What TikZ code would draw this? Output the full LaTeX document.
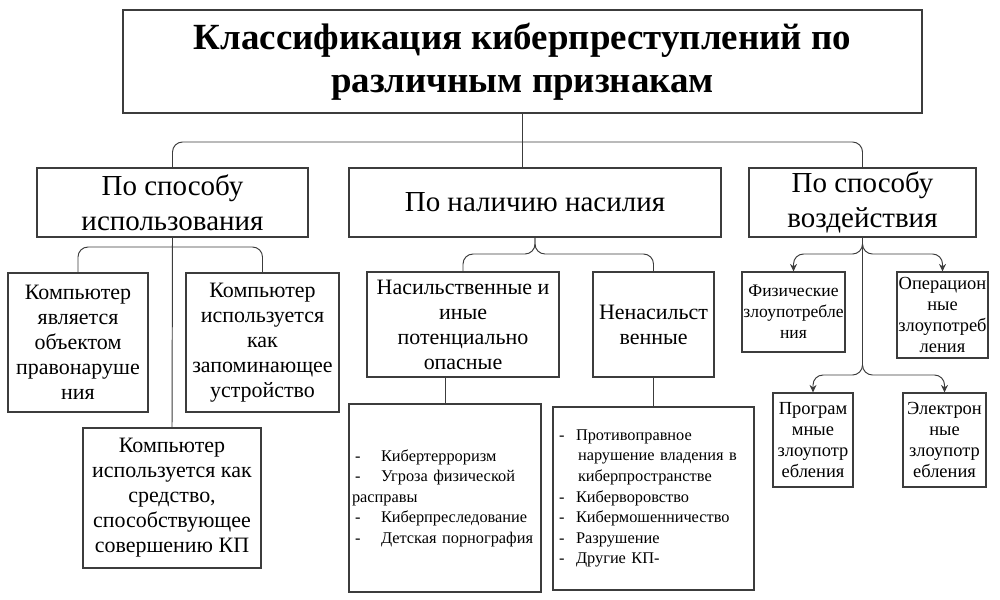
\documentclass[tikz,border=0pt]{standalone}
\usepackage{fontspec}
\setmainfont{Liberation Serif}
\newfontfamily\titlefont{Liberation Serif Bold}
\usetikzlibrary{arrows.meta}
\definecolor{c3c3c3c}{RGB}{60,60,60}
\newcommand{\ldash}[1]{\makebox[#1][l]{-}}

\begin{document}
\begin{tikzpicture}[x=0.02cm, y=-0.02cm,
  box/.style={draw=c3c3c3c, fill=white, line width=0.7pt, inner sep=0pt, align=center, text=black},
  link/.style={draw=c3c3c3c, line width=0.55pt, rounded corners=0.2cm},
  tip/.style={-{Stealth[length=1.5mm,width=1.4mm]}},
  headbox/.style={box, font=\titlefont\fontsize{21}{24.4}\selectfont},
  lvlone/.style={box, font=\fontsize{16.5}{20}\selectfont},
  lvltwo/.style={box, font=\fontsize{12.5}{14.2}\selectfont},
  smallbox/.style={box, font=\fontsize{10.5}{12}\selectfont},
  listbox/.style={box, align=left, inner xsep=0.12cm, font=\fontsize{9.3}{11.7}\selectfont}]
  \useasboundingbox (0,0) rectangle (1000,599);

  \node[headbox, minimum width=15.98cm, minimum height=2.06cm] (title) at (522.5,61.5)
    {Классификация киберпреступлений по\\различным признакам};

  \node[lvlone, minimum width=5.42cm, minimum height=1.38cm] (byuse) at (172.5,202.5) {По способу\\использования};
  \node[lvlone, minimum width=7.44cm, minimum height=1.38cm] (byviol) at (535,202.5) {По наличию насилия};
  \node[lvlone, minimum width=4.54cm, minimum height=1.38cm] (byimpact) at (862.5,202.5) {По способу\\воздействия};

  \node[lvltwo, minimum width=2.8cm, minimum height=2.78cm] (objbox) at (78,342.5)
    {Компьютер\\является\\объектом\\правонаруше\\ния};
  \node[lvltwo, minimum width=3.06cm, minimum height=2.78cm] (storebox) at (262.5,342.5)
    {Компьютер\\используется\\как\\запоминающее\\устройство};
  \node[lvltwo, minimum width=3.56cm, minimum height=2.8cm] (meansbox) at (172,498)
    {Компьютер\\используется как\\средство,\\способствующее\\совершению КП};

  \node[lvltwo, minimum width=3.84cm, minimum height=2.1cm] (violbox) at (463,324.5)
    {Насильственные и\\иные\\потенциально\\опасные};
  \node[lvltwo, minimum width=2.42cm, minimum height=2.1cm] (nonviolbox) at (653.5,324.5)
    {Ненасильст\\венные};

  \node[listbox, text width=3.6cm, minimum height=3.76cm] (violist) at (445,498)
    {\ldash{0.52cm}Кибертерроризм\\
     \ldash{0.52cm}Угроза физической\\
     \hspace*{-0.06cm}расправы\\
     \ldash{0.52cm}Киберпреследование\\
     \ldash{0.52cm}Детская порнография};
  \node[listbox, text width=3.78cm, minimum height=3.66cm] (nonviolist) at (653.5,498.5)
    {\ldash{0.34cm}Противоправное\\
     \hspace*{0.38cm}нарушение владения в\\
     \hspace*{0.38cm}киберпространстве\\
     \ldash{0.34cm}Киберворовство\\
     \ldash{0.34cm}Кибермошенничество\\
     \ldash{0.34cm}Разрушение\\
     \ldash{0.34cm}Другие КП-};

  \node[smallbox, minimum width=2.06cm, minimum height=1.6cm, font=\fontsize{10}{12}\selectfont] (physbox) at (793.5,312)
    {Физические\\злоупотребле\\ния};
  \node[smallbox, minimum width=1.82cm, minimum height=1.72cm] (operbox) at (942.5,315)
    {Операцион\\ные\\злоупотреб\\ления};
  \node[smallbox, minimum width=1.6cm, minimum height=1.88cm] (progbox) at (813,440)
    {Програм\\мные\\злоупотр\\ебления};
  \node[smallbox, minimum width=1.66cm, minimum height=1.88cm] (elecbox) at (944.5,440)
    {Электрон\\ные\\злоупотр\\ебления};

  \coordinate (topfork) at (523,142);
  \coordinate (usefork) at (172,247);
  \coordinate (violfork) at (535,254);
  \coordinate (impfork) at (862.5,254);
  \coordinate (impfork2) at (862.5,375);

  \draw[link] (byuse.north) |- (topfork) -| (byimpact.north);
  \draw[link] (title.south) -- (title.south |- byviol.north);

  \draw[link] (objbox.north) |- (usefork) -| (storebox.north);
  \draw[link] (byuse.south) -- (meansbox.north);

  \draw[link] (violbox.north) |- (violfork) -- (byviol.south);
  \draw[link] (nonviolbox.north) |- (violfork) -- (byviol.south);
  \draw[link] (violist.north) -- (violist.north |- violbox.south);
  \draw[link] (nonviolbox.south) -- (nonviolist.north);

  \draw[link, tip] (byimpact.south) -- (impfork) -| (physbox.north);
  \draw[link, tip] (byimpact.south) -- (impfork) -| (operbox.north);
  \draw[link, tip] (byimpact.south) -- (impfork2) -| (progbox.north);
  \draw[link, tip] (byimpact.south) -- (impfork2) -| (elecbox.north);

\end{tikzpicture}
\end{document}
